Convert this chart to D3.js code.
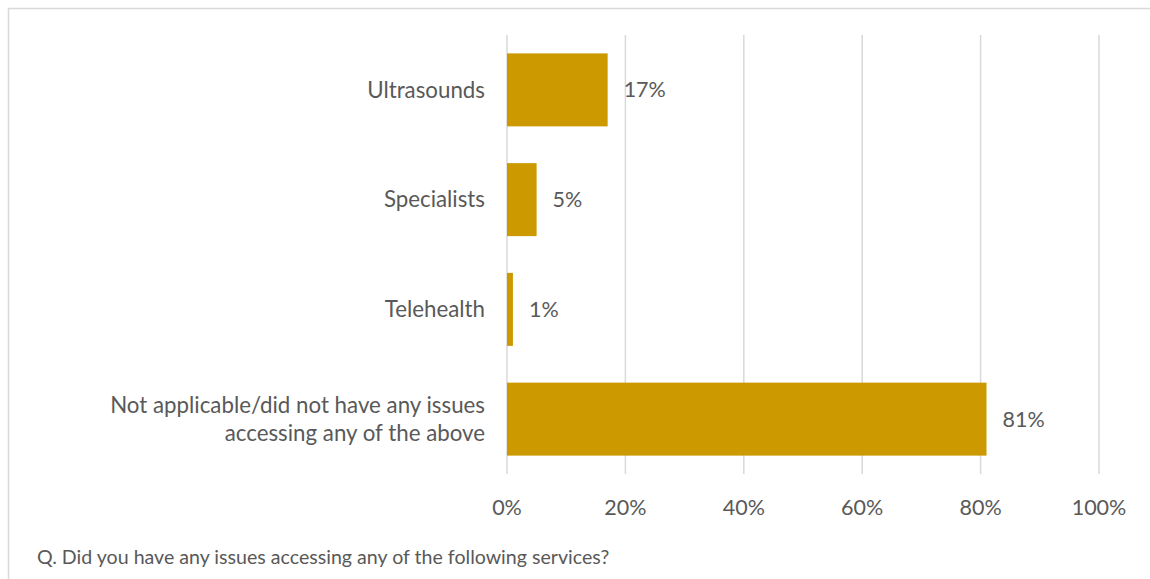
<!DOCTYPE html>
<html><head><meta charset="utf-8">
<script src="https://cdn.jsdelivr.net/npm/d3@7/dist/d3.min.js"></script>
<style>body{margin:0;background:#fff}svg{display:block}text{font-family:Lato,"Open Sans",sans-serif;fill:#595959}</style>
</head><body><svg id="c" width="1150" height="579"></svg>
<script>
const categories = [["Ultrasounds"], ["Specialists"], ["Telehealth"], ["Not applicable/did not have any issues", "accessing any of the above"]];
const values = [17, 5, 1, 81];
const ticks = [0, 20, 40, 60, 80, 100];
const footnote = "Q. Did you have any issues accessing any of the following services?";

const svg = d3.select("#c");
svg.append("rect").attr("x", 8.5).attr("y", 8.5).attr("width", 1160).attr("height", 600)
  .attr("fill", "#fff").attr("stroke", "#d9d9d9").attr("stroke-width", 1.5);

const x = d3.scaleLinear().domain([0, 100]).range([507, 1099]);
const y = d3.scaleBand().domain(d3.range(categories.length)).range([35, 474]).paddingInner(0.335).paddingOuter(0.1675);

const g = svg.append("g");
g.selectAll("line.grid").data(ticks).join("line").attr("class", "grid")
  .attr("x1", d => x(d)).attr("x2", d => x(d)).attr("y1", 35).attr("y2", 474)
  .attr("stroke", "#d9d9d9").attr("stroke-width", 1.5);

g.selectAll("rect.bar").data(values).join("rect").attr("class", "bar")
  .attr("x", x(0)).attr("y", (d, i) => y(i)).attr("width", d => x(d) - x(0)).attr("height", y.bandwidth())
  .attr("fill", "#CC9900");

g.selectAll("text.val").data(values).join("text").attr("class", "val")
  .attr("x", d => x(d) + 16).attr("y", (d, i) => y(i) + y.bandwidth() / 2).attr("dy", "0.35em")
  .attr("font-size", 21.5).text(d => d + "%");

const cl = g.selectAll("text.cat").data(categories).join("text").attr("class", "cat")
  .attr("text-anchor", "end").attr("font-size", 22.3)
  .attr("y", (d, i) => y(i) + y.bandwidth() / 2);
cl.each(function (d) {
  const t = d3.select(this);
  const n = d.length;
  d.forEach((line, k) => {
    t.append("tspan").attr("x", 485).attr("dy", k === 0 ? (0.35 - (n - 1) * 0.63) + "em" : "1.26em").text(line);
  });
});

g.selectAll("text.tick").data(ticks).join("text").attr("class", "tick")
  .attr("x", d => x(d)).attr("y", 515).attr("text-anchor", "middle").attr("font-size", 21.5)
  .text(d => d + "%");

svg.append("text").attr("x", 37).attr("y", 564).attr("font-size", 19.6).text(footnote);
</script></body></html>
